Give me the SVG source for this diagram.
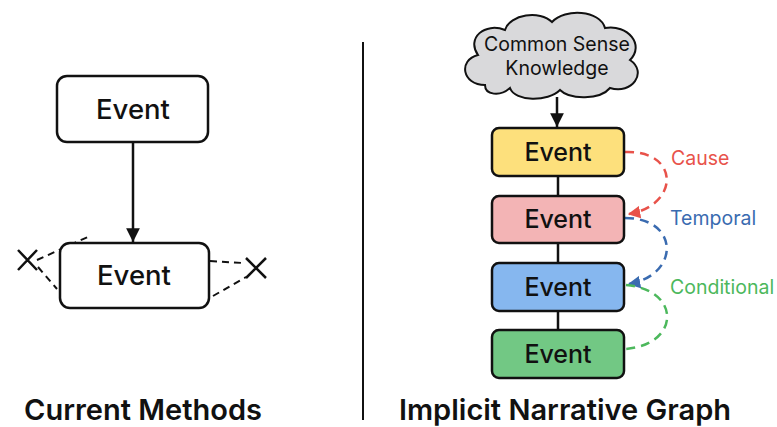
<svg xmlns="http://www.w3.org/2000/svg" width="777" height="427" viewBox="0 0 777 427">
<defs>
<style>
.box{stroke:#111;stroke-width:2.5}
.ev{font-family:Inter,"Liberation Sans",sans-serif;font-weight:500;fill:#111;text-anchor:middle}
.title{font-family:Inter,"Liberation Sans",sans-serif;font-weight:600;font-size:29px;fill:#111;text-anchor:middle}
.lbl{font-family:Inter,"Liberation Sans",sans-serif;font-size:19.5px}
.line{stroke:#111;stroke-width:2.5;fill:none}
.dash{stroke:#111;stroke-width:2;fill:none;stroke-dasharray:7 5}
.cdash{stroke-width:2.5;fill:none;stroke-dasharray:9 6}
</style>
<marker id="ah" viewBox="0 0 10 10" refX="10" refY="5" markerWidth="5.5" markerHeight="5.5" orient="auto"><path d="M0,0 L10,5 L0,10 Z" fill="#111"/></marker>
<marker id="ahr" viewBox="0 0 10 10" refX="9" refY="5" markerWidth="5" markerHeight="5" orient="auto"><path d="M0,0 L10,5 L0,10 Z" fill="#E8524A"/></marker>
<marker id="ahb" viewBox="0 0 10 10" refX="9" refY="5" markerWidth="5" markerHeight="5" orient="auto"><path d="M0,0 L10,5 L0,10 Z" fill="#3A6BB0"/></marker>
</defs>
<rect width="777" height="427" fill="#fff"/>

<g id="connectors">
<line class="line" x1="133" y1="143" x2="133" y2="242" marker-end="url(#ah)"/>
<path class="dash" d="M37,260 L90,236"/>
<path class="dash" d="M38,267 L57,289"/>
<path class="dash" d="M210,261 L243,263"/>
<path class="dash" d="M213,296 L246,277"/>
<line class="line" x1="557" y1="97" x2="557" y2="127" marker-end="url(#ah)"/>
<line class="line" x1="558" y1="176" x2="558" y2="196"/>
<line class="line" x1="558" y1="243" x2="558" y2="263"/>
<line class="line" x1="558" y1="311" x2="558" y2="330"/>
<path class="cdash" stroke="#E8524A" d="M625,152 C680,150 680,205 629,214" marker-end="url(#ahr)"/>
<path class="cdash" stroke="#3A6BB0" d="M625,218 C680,218 680,275 629,284" marker-end="url(#ahb)"/>
<path class="cdash" stroke="#4CB85C" d="M626,285 C682,290 680,345 625,349"/>
</g>

<line x1="363" y1="42" x2="363" y2="420" stroke="#111" stroke-width="2"/>

<g id="left-event-1">
<rect class="box" x="57" y="76" width="151" height="66" rx="10" fill="#fff"/>
<text class="ev" x="133" y="119" font-size="27.5">Event</text>
</g>
<g id="left-event-2">
<rect class="box" x="60" y="243" width="149" height="65" rx="10" fill="#fff"/>
<text class="ev" x="134" y="285" font-size="27.5">Event</text>
</g>
<g id="x-left">
<path d="M18,250 L37,270 M37,250 L18,270" stroke="#111" stroke-width="2.5"/>
</g>
<g id="x-right">
<path d="M246,258 L266,278 M266,258 L246,278" stroke="#111" stroke-width="2.5"/>
</g>

<g id="cloud">
<path d="M485,85 C462,85 458,60 478,55 C466,38 485,22 505,30 C510,14 540,10 552,22 C565,8 600,10 605,28 C628,24 645,45 630,60 C648,72 632,95 610,88 C600,100 570,100 560,90 C548,102 515,102 510,88 C500,97 485,95 485,85 Z" fill="#D9D9DB" stroke="#111" stroke-width="2"/>
<text class="lbl" x="557" y="51" text-anchor="middle" fill="#111" font-size="18.5">Common Sense</text>
<text class="lbl" x="557" y="75" text-anchor="middle" fill="#111" font-size="18.5">Knowledge</text>
</g>

<g id="event-yellow">
<rect class="box" x="492" y="128" width="132" height="48" rx="7" fill="#FDE07C"/>
<text class="ev" x="558" y="161" font-size="25">Event</text>
</g>
<g id="event-pink">
<rect class="box" x="492" y="196" width="132" height="47" rx="7" fill="#F3B4B5"/>
<text class="ev" x="558" y="228" font-size="25">Event</text>
</g>
<g id="event-blue">
<rect class="box" x="492" y="263" width="132" height="48" rx="7" fill="#86B7EF"/>
<text class="ev" x="558" y="296" font-size="25">Event</text>
</g>
<g id="event-green">
<rect class="box" x="492" y="330" width="132" height="48" rx="7" fill="#72C884"/>
<text class="ev" x="558" y="363" font-size="25">Event</text>
</g>

<text class="lbl" x="671" y="165" fill="#E8524A">Cause</text>
<text class="lbl" x="670" y="225" fill="#3A6BB0">Temporal</text>
<text class="lbl" x="670" y="294" fill="#4CB85C">Conditional</text>

<text class="title" x="143" y="420">Current Methods</text>
<text class="title" x="565" y="420">Implicit Narrative Graph</text>
</svg>
